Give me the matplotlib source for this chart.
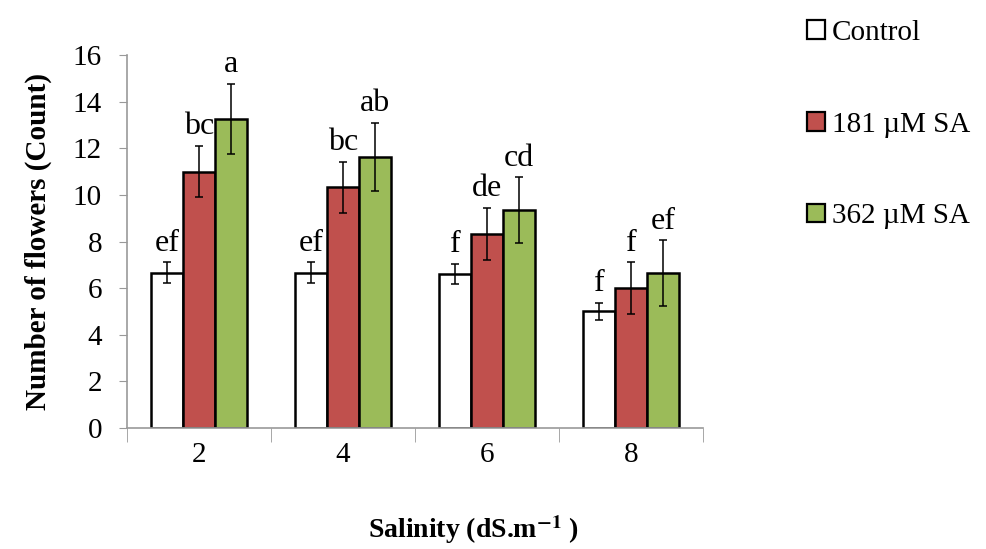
import numpy as np
import matplotlib.pyplot as plt
from matplotlib.patches import Patch

plt.rcParams['font.family'] = ['Liberation Serif', 'DejaVu Serif']
plt.rcParams['mathtext.fontset'] = 'stix'

salinity = ['2', '4', '6', '8']
series = ['Control', '181 \u00b5M SA', '362 \u00b5M SA']
colors = ['white', '#C0504D', '#9BBB59']
means = [
    [6.65, 6.65, 6.6, 5.0],
    [11.0, 10.33, 8.32, 6.0],
    [13.27, 11.63, 9.34, 6.65],
]
errors = [
    [0.45, 0.45, 0.43, 0.38],
    [1.1, 1.1, 1.13, 1.1],
    [1.5, 1.45, 1.42, 1.4],
]
letters = [
    ['ef', 'ef', 'f', 'f'],
    ['bc', 'bc', 'de', 'f'],
    ['a', 'ab', 'cd', 'ef'],
]

fig = plt.figure(figsize=(9.87, 5.49), dpi=100)
ax = fig.add_axes([0.1287, 0.2204, 0.5836, 0.6794])

x = np.arange(len(salinity))
width = 0.222
for i in range(3):
    pos = x + (i - 1) * width
    ax.bar(pos, means[i], width, color=colors[i], edgecolor='black', linewidth=1.8,
           label=series[i], zorder=2)
    ax.errorbar(pos, means[i], yerr=errors[i], fmt='none', ecolor='black',
                elinewidth=1.1, capsize=3.2, capthick=1.1, zorder=3)
    for p, m, e, t in zip(pos, means[i], errors[i], letters[i]):
        ax.text(p, m + e + 0.2, t, ha='center', va='bottom', fontsize=23)

ax.set_xlim(-0.5, 3.5)
ax.set_ylim(0, 16)
ax.set_yticks(np.arange(0, 17, 2))
ax.set_xticks(x)
ax.set_xticklabels(salinity)
ax.set_xticks(np.arange(-0.5, 4, 1), minor=True)
ax.tick_params(axis='x', which='major', length=0, labelsize=21, pad=10)
ax.tick_params(axis='x', which='minor', length=10, direction='out', color='#999999')
ax.tick_params(axis='y', length=6, direction='out', color='#999999', labelsize=21, pad=12)
for s in ['top', 'right']:
    ax.spines[s].set_visible(False)
for s in ['left', 'bottom']:
    ax.spines[s].set_color('#999999')
    ax.spines[s].set_linewidth(1.2)

ax.set_ylabel('Number of flowers (Count)', fontsize=21, fontweight='bold', labelpad=15)
fig.text(0.48, 0.035, r'Salinity (dS.m$^{\mathbf{-1}}$ )', ha='center', va='center',
         fontsize=20, fontweight='bold')

handles = [Patch(facecolor=c, edgecolor='black', linewidth=1.6) for c in colors]
fig.legend(handles, series, loc='upper left', bbox_to_anchor=(0.806, 0.985),
           frameon=False, fontsize=21, handlelength=0.6, handleheight=0.6,
           handletextpad=0.25, labelspacing=2.25, borderaxespad=0)

fig.savefig('out.png', dpi=100)
